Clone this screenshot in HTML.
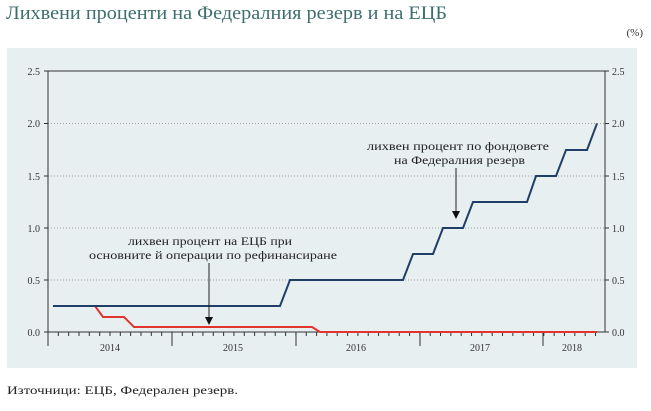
<!DOCTYPE html>
<html><head><meta charset="utf-8"><style>
body{margin:0;width:651px;height:406px;background:#fff;overflow:hidden;font-family:"Liberation Serif",serif;}
</style></head><body>
<svg width="651" height="406" xmlns="http://www.w3.org/2000/svg" font-family="Liberation Serif, serif">
<text x="6" y="19" font-size="19" fill="#3d6f6c" textLength="441" lengthAdjust="spacingAndGlyphs">Лихвени проценти на Федералния резерв и на ЕЦБ</text>
<text x="643" y="36" font-size="11" fill="#333" text-anchor="end">(%)</text>
<rect x="7" y="48" width="630" height="320" fill="#e8eff0"/>
<g stroke="#888" stroke-dasharray="1,2" stroke-width="0.8">
<line x1="48" y1="123.5" x2="605" y2="123.5"/><line x1="48" y1="176" x2="605" y2="176"/>
<line x1="48" y1="228" x2="605" y2="228"/><line x1="48" y1="280" x2="605" y2="280"/>
</g>
<g stroke="#333" stroke-width="1">
<line x1="48" y1="71" x2="605" y2="71"/>
<line x1="48" y1="71" x2="48" y2="332"/><line x1="605" y1="71" x2="605" y2="332"/>
<line x1="48" y1="332" x2="605" y2="332"/>
<line x1="44" y1="71" x2="48" y2="71"/><line x1="44" y1="123.5" x2="48" y2="123.5"/><line x1="44" y1="176" x2="48" y2="176"/><line x1="44" y1="228" x2="48" y2="228"/><line x1="44" y1="280" x2="48" y2="280"/><line x1="44" y1="332" x2="48" y2="332"/>
<line x1="605" y1="71" x2="609" y2="71"/><line x1="605" y1="123.5" x2="609" y2="123.5"/><line x1="605" y1="176" x2="609" y2="176"/><line x1="605" y1="228" x2="609" y2="228"/><line x1="605" y1="280" x2="609" y2="280"/><line x1="605" y1="332" x2="609" y2="332"/>
<line x1="48" y1="332" x2="48" y2="346"/><line x1="172" y1="332" x2="172" y2="346"/><line x1="296" y1="332" x2="296" y2="346"/><line x1="420" y1="332" x2="420" y2="346"/><line x1="543" y1="332" x2="543" y2="346"/>
</g>
<g stroke="#333" stroke-width="1" id="mt"></g>
<g font-size="10" fill="#333">
<text x="40" y="75" text-anchor="end">2.5</text><text x="40" y="127" text-anchor="end">2.0</text><text x="40" y="180" text-anchor="end">1.5</text><text x="40" y="232" text-anchor="end">1.0</text><text x="40" y="284" text-anchor="end">0.5</text><text x="40" y="336" text-anchor="end">0.0</text>
<text x="612" y="75">2.5</text><text x="612" y="127">2.0</text><text x="612" y="180">1.5</text><text x="612" y="232">1.0</text><text x="612" y="284">0.5</text><text x="612" y="336">0.0</text>
<text x="110" y="351" text-anchor="middle">2014</text><text x="233" y="351" text-anchor="middle">2015</text><text x="356" y="351" text-anchor="middle">2016</text><text x="480" y="351" text-anchor="middle">2017</text><text x="572" y="351" text-anchor="middle">2018</text>
</g>
<polyline fill="none" stroke="#e0342c" stroke-width="2" points="53,306 95,306 103,317 124,317 134,327 312,327 320,332 597,332"/>
<polyline fill="none" stroke="#1f3f68" stroke-width="2" points="53,306 280,306 290,280 403,280 413,254 433,254 443,228 463,228 473,202 527,202 536,176 556,176 566,150 587,150 597,123.5"/>
<g font-size="12" fill="#222">
<text x="367" y="150" textLength="182" lengthAdjust="spacingAndGlyphs">лихвен процент по фондовете</text>
<text x="394" y="164" textLength="131" lengthAdjust="spacingAndGlyphs">на Федералния резерв</text>
<text x="128" y="245" textLength="164" lengthAdjust="spacingAndGlyphs">лихвен процент на ЕЦБ при</text>
<text x="89" y="259" textLength="248" lengthAdjust="spacingAndGlyphs">основните й операции по рефинансиране</text>
</g>
<g stroke="#222" stroke-width="1"><line x1="456" y1="168" x2="456" y2="212"/><line x1="209" y1="263" x2="209" y2="318"/></g>
<polygon points="452,211 460,211 456,219" fill="#111"/>
<polygon points="205,317 213,317 209,325" fill="#111"/>
<text x="7" y="394" font-size="12" fill="#222" textLength="231" lengthAdjust="spacingAndGlyphs">Източници: ЕЦБ, Федерален резерв.</text>
</svg>
<script>
var g=document.getElementById('mt'),s='';
for(var i=0;i<55;i++){var x=48+i*10.33;if(x>605)break;s+='<line x1="'+x+'" y1="332" x2="'+x+'" y2="336"/>';}
g.innerHTML=s;
</script>
</body></html>
